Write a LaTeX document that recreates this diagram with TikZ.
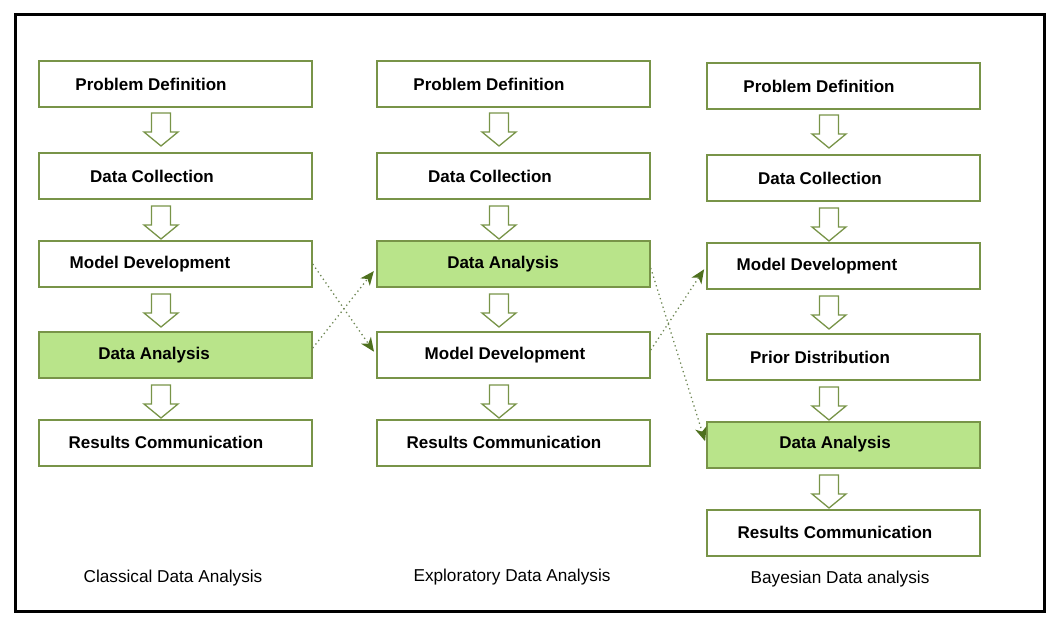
\documentclass[tikz,border=0pt]{standalone}
\usepackage{fontspec}
\setmainfont{Liberation Sans}
\usetikzlibrary{arrows.meta}
\definecolor{boxline}{RGB}{120,148,72}
\definecolor{boxfill}{RGB}{185,228,138}
\definecolor{dotline}{RGB}{110,135,85}
\definecolor{tipcol}{RGB}{78,112,30}
\tikzset{
  box/.style={draw=boxline, line width=1.4pt, minimum width=273pt, minimum height=46pt, inner sep=0pt},
  greenbox/.style={box, fill=boxfill},
  lbl/.style={font=\fontsize{17}{20}\selectfont\bfseries, inner sep=0pt},
  captext/.style={font=\fontsize{17.2}{20}\selectfont, inner sep=0pt},
  barr/.style={draw=boxline, line width=1.3pt, fill=white, line join=miter},
  dotarrow/.style={draw=dotline, line width=1.3pt, dash pattern=on 1.3pt off 3.2pt,
    -{Stealth[length=14pt,width=12pt,inset=4pt,line width=0pt,fill=tipcol,color=tipcol]}, shorten >=4pt}
}
\newcommand\barrow[3]{%
  \draw[barr] ({#1-9.5},#2) -- ({#1+9.5},#2) -- ({#1+9.5},{#2+19}) -- ({#1+17},{#2+19})
    -- (#1,#3) -- ({#1-17},{#2+19}) -- ({#1-9.5},{#2+19}) -- cycle;}
\begin{document}
\begin{tikzpicture}[x=1pt,y=-1pt]
\useasboundingbox (0,0) rectangle (1057,623);
\draw[line width=3pt, black] (15,15) rectangle (1044,611);

% Column 1
\node[box] (a1) at (175.5,84) {};
\node[lbl] (a1t) at (151,84) {Problem Definition};
\node[box] (a2) at (175.5,176) {};
\node[lbl] (a2t) at (152,176) {Data Collection};
\node[box] (a3) at (175.5,264) {};
\node[lbl] (a3t) at (150,264) {Model Development};
\node[greenbox] (a4) at (175.5,355) {};
\node[lbl] (a4t) at (154,355) {Data Analysis};
\node[box] (a5) at (175.5,443) {};
\node[lbl] (a5t) at (166,442) {Results Communication};
\barrow{161}{113}{146}
\barrow{161}{206}{239}
\barrow{161}{294}{327}
\barrow{161}{385}{418}

% Column 2
\node[box] (b1) at (513.5,84) {};
\node[lbl] (b1t) at (489,84) {Problem Definition};
\node[box] (b2) at (513.5,176) {};
\node[lbl] (b2t) at (490,176) {Data Collection};
\node[greenbox] (b3) at (513.5,264) {};
\node[lbl] (b3t) at (503,264) {Data Analysis};
\node[box] (b4) at (513.5,355) {};
\node[lbl] (b4t) at (505,355) {Model Development};
\node[box] (b5) at (513.5,443) {};
\node[lbl] (b5t) at (504,442) {Results Communication};
\barrow{499}{113}{146}
\barrow{499}{206}{239}
\barrow{499}{294}{327}
\barrow{499}{385}{418}

% Column 3
\node[box] (c1) at (843.5,86) {};
\node[lbl] (c1t) at (819,86) {Problem Definition};
\node[box] (c2) at (843.5,178) {};
\node[lbl] (c2t) at (820,178) {Data Collection};
\node[box] (c3) at (843.5,266) {};
\node[lbl] (c3t) at (817,266) {Model Development};
\node[box] (c4) at (843.5,357) {};
\node[lbl] (c4t) at (820,357) {Prior Distribution};
\node[greenbox] (c5) at (843.5,445) {};
\node[lbl] (c5t) at (835,444) {Data Analysis};
\node[box] (c6) at (843.5,533) {};
\node[lbl] (c6t) at (835,532) {Results Communication};
\barrow{829}{115}{148}
\barrow{829}{208}{241}
\barrow{829}{296}{329}
\barrow{829}{387}{420}
\barrow{829}{475}{508}

% Dotted connectors
\draw[dotarrow] (a3.east) -- (b4.west);
\draw[dotarrow] ([yshift=7pt]a4.east) -- ([yshift=-4pt]b3.west);
\draw[dotarrow] ([yshift=-4pt]b3.east) -- (c5.west);
\draw[dotarrow] ([yshift=5pt]b4.east) -- (c3.west);

% Captions
\node[captext] (capa) at (173,578) {Classical Data Analysis};
\node[captext] (capb) at (512,577) {Exploratory Data Analysis};
\node[captext] (capc) at (840,579) {Bayesian Data analysis};
\end{tikzpicture}
\end{document}
